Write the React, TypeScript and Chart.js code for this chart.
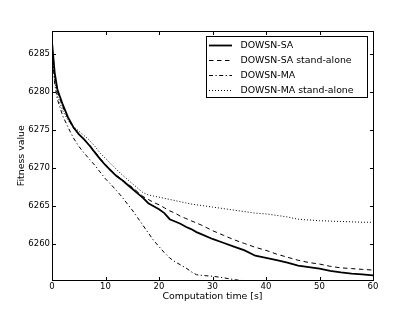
import { useEffect, useRef } from 'react';
import { Chart, registerables } from 'chart.js';

Chart.register(...registerables);

const times = [0, 0.5, 1, 2, 3, 4, 5, 6, 7, 8, 9, 10, 11, 12, 13, 14, 15, 16, 17, 18, 19, 20, 21, 22, 23, 24, 25, 26, 27, 28, 30, 32, 34, 36, 38, 40, 42, 44, 46, 48, 50, 52, 54, 56, 58, 60];

const saValues = [6286.5, 6282.5, 6280.3, 6278.3, 6276.6, 6275.3, 6274.4, 6273.7, 6272.9, 6272.0, 6271.1, 6270.3, 6269.6, 6268.9, 6268.4, 6267.8, 6267.2, 6266.6, 6266.0, 6265.3, 6264.9, 6264.5, 6264.0, 6263.2, 6262.9, 6262.6, 6262.2, 6261.9, 6261.5, 6261.2, 6260.6, 6260.1, 6259.6, 6259.1, 6258.4, 6258.1, 6257.8, 6257.5, 6257.1, 6256.9, 6256.7, 6256.4, 6256.2, 6256.05, 6255.95, 6255.8];

const saStandAloneValues = [6286.3, 6282.3, 6280.0, 6278.0, 6276.4, 6275.2, 6274.4, 6273.7, 6273.0, 6272.1, 6271.2, 6270.4, 6269.7, 6269.0, 6268.5, 6267.9, 6267.4, 6266.8, 6266.2, 6265.8, 6265.4, 6265.1, 6264.7, 6264.3, 6264.0, 6263.6, 6263.3, 6263.0, 6262.7, 6262.4, 6261.7, 6261.1, 6260.5, 6260.0, 6259.5, 6259.1, 6258.6, 6258.2, 6257.8, 6257.5, 6257.3, 6257.0, 6256.8, 6256.7, 6256.6, 6256.5];

const maValues = [6285.5, 6281.0, 6279.0, 6276.8, 6275.3, 6273.9, 6272.8, 6271.9, 6271.1, 6270.3, 6269.4, 6268.5, 6267.8, 6267.0, 6266.2, 6265.3, 6264.4, 6263.4, 6262.4, 6261.4, 6260.4, 6259.6, 6258.8, 6258.1, 6257.6, 6257.2, 6256.8, 6256.3, 6255.9, 6255.8, 6255.7, 6255.5, 6255.25, 6255.1, 6255.0, 6254.9, 6254.85, 6254.8, 6254.75, 6254.7, 6254.65, 6254.6, 6254.55, 6254.5, 6254.45, 6254.4];

const maStandAloneValues = [6286.0, 6281.5, 6279.5, 6277.5, 6276.2, 6275.4, 6274.8, 6274.2, 6273.6, 6272.8, 6271.9, 6271.2, 6270.5, 6269.8, 6269.1, 6268.5, 6267.9, 6267.3, 6266.7, 6266.4, 6266.25, 6266.1, 6265.95, 6265.8, 6265.65, 6265.5, 6265.35, 6265.2, 6265.1, 6265.0, 6264.8, 6264.6, 6264.4, 6264.2, 6264.0, 6263.9, 6263.7, 6263.5, 6263.2, 6263.1, 6263.0, 6262.95, 6262.9, 6262.85, 6262.8, 6262.8];

const seriesLabels = ['DOWSN-SA', 'DOWSN-SA stand-alone', 'DOWSN-MA', 'DOWSN-MA stand-alone'];
const xTicks = [0, 10, 20, 30, 40, 50, 60];
const yTicks = [6260, 6265, 6270, 6275, 6280, 6285];

const FONT = '"DejaVu Sans", sans-serif';

const framePlugin = {
  id: 'frameTicksLegend',
  afterDatasetsDraw(chart: any) {
    const { ctx, chartArea: a, scales } = chart;
    const L = Math.floor(a.left) + 0.5;
    const R = Math.floor(a.right) + 0.5;
    const T = Math.floor(a.top) + 0.5;
    const B = Math.floor(a.bottom) + 0.5;
    ctx.save();
    ctx.strokeStyle = '#000';
    ctx.lineWidth = 1;
    ctx.setLineDash([]);
    ctx.strokeRect(L, T, R - L, B - T);
    const tl = 3.5;
    ctx.beginPath();
    for (const v of xTicks) {
      const px = Math.round(scales.x.getPixelForValue(v)) + 0.5;
      ctx.moveTo(px, B); ctx.lineTo(px, B - tl);
      ctx.moveTo(px, T); ctx.lineTo(px, T + tl);
    }
    for (const v of yTicks) {
      const py = Math.round(scales.y.getPixelForValue(v)) + 0.5;
      ctx.moveTo(L, py); ctx.lineTo(L + tl, py);
      ctx.moveTo(R, py); ctx.lineTo(R - tl, py);
    }
    ctx.stroke();

    // legend
    const bx = 206.5, by = 36.5, bw = 161, bh = 61;
    ctx.fillStyle = '#fff';
    ctx.fillRect(bx, by, bw, bh);
    ctx.strokeRect(bx, by, bw, bh);
    ctx.font = '9.4px ' + FONT;
    ctx.textBaseline = 'middle';
    ctx.textAlign = 'left';
    chart.data.datasets.forEach((ds: any, i: number) => {
      const y = 45.5 + i * 15;
      ctx.save();
      ctx.strokeStyle = ds.borderColor;
      ctx.lineWidth = ds.borderWidth;
      ctx.setLineDash(ds.borderDash || []);
      ctx.beginPath();
      ctx.moveTo(209, y);
      ctx.lineTo(232, y);
      ctx.stroke();
      ctx.restore();
      ctx.fillStyle = '#000';
      ctx.fillText(ds.label, 240.5, y);
    });
    ctx.restore();
  },
};

export default function App() {
  const ref = useRef<HTMLCanvasElement | null>(null);
  useEffect(() => {
    document.body.style.margin = '0';
    const canvas = ref.current;
    if (!canvas) return;
    const mk = (label: string, values: number[], width: number, dash: number[]) => ({
      label,
      data: times.map((t, i) => ({ x: t, y: values[i] })),
      borderColor: '#000',
      backgroundColor: '#000',
      borderWidth: width,
      borderDash: dash,
      pointRadius: 0,
      tension: 0,
      fill: false,
    });
    const chart = new Chart(canvas, {
      type: 'line',
      data: {
        datasets: [
          mk(seriesLabels[0], saValues, 1.8, []),
          mk(seriesLabels[1], saStandAloneValues, 1, [4.5, 3.5]),
          mk(seriesLabels[2], maValues, 1, [4, 2.5, 1.2, 2.5]),
          mk(seriesLabels[3], maStandAloneValues, 1, [1, 2]),
        ],
      },
      options: {
        responsive: false,
        maintainAspectRatio: false,
        animation: false,
        layout: { padding: { top: 31.5, right: 42, left: 0, bottom: 0 } },
        plugins: { legend: { display: false }, tooltip: { enabled: false } },
        scales: {
          x: {
            type: 'linear',
            min: 0,
            max: 60,
            afterBuildTicks: (s: any) => { s.ticks = xTicks.map((v) => ({ value: v })); },
            afterFit: (s: any) => { s.height = 32; },
            grid: { display: false, drawTicks: false },
            border: { display: false },
            ticks: { color: '#000', padding: 1.5, font: { family: FONT, size: 8.5 }, maxRotation: 0, autoSkip: false },
            title: { display: true, text: 'Computation time [s]', color: '#000', font: { family: FONT, size: 9.4 }, padding: { top: 0, bottom: 9.4 } },
          },
          y: {
            type: 'linear',
            min: 6255.2,
            max: 6287.9,
            afterBuildTicks: (s: any) => { s.ticks = yTicks.map((v) => ({ value: v })); },
            afterFit: (s: any) => { s.width = 52; },
            grid: { display: false, drawTicks: false },
            border: { display: false },
            ticks: { color: '#000', padding: 2, font: { family: FONT, size: 8.5 }, autoSkip: false, callback: (v: any) => String(v) },
            title: { display: true, text: 'Fitness value', color: '#000', font: { family: FONT, size: 9.4 }, padding: { top: 16, bottom: 0 } },
          },
        },
      },
      plugins: [framePlugin],
    } as any);
    return () => chart.destroy();
  }, []);
  return (
    <div style={{ width: 415, height: 312 }}>
      <canvas ref={ref} width={415} height={312} style={{ display: 'block', width: 415, height: 312 }} />
    </div>
  );
}
